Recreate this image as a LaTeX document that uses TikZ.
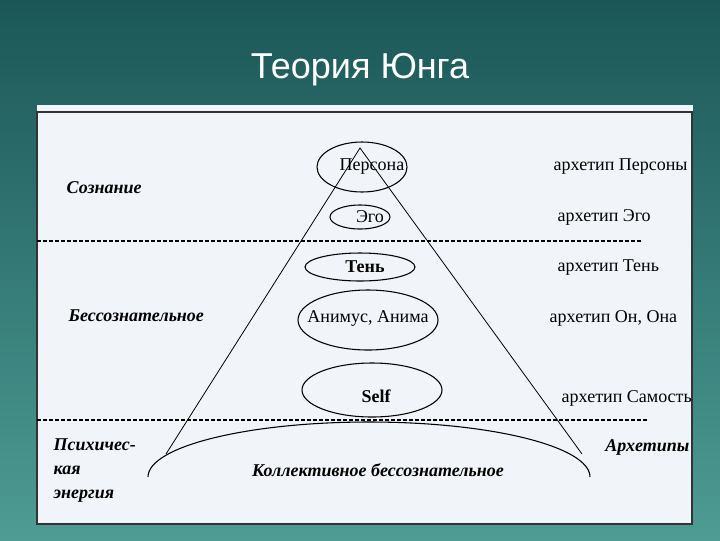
\documentclass[tikz,border=0pt]{standalone}
\usepackage{fontspec}
\setmainfont{Liberation Serif}
\newfontfamily\titlefont{Liberation Sans}
\definecolor{bgtop}{HTML}{1B5757}
\definecolor{bgbot}{HTML}{4E9C94}
\definecolor{panel}{HTML}{F1F4F8}
\begin{document}
\begin{tikzpicture}[x=0.75pt,y=-0.75pt,
  rlab/.style={anchor=west,font=\fontsize{13.5}{15}\selectfont},
  llab/.style={anchor=west,font=\fontsize{13.5}{18}\selectfont\bfseries\itshape},
  ilab/.style={font=\fontsize{13.5}{15}\selectfont},
  dash line/.style={line width=0.8pt,dash pattern=on 3pt off 1.5pt}]
\useasboundingbox (0,0) rectangle (720,540);
\shade[top color=bgtop,bottom color=bgbot] (0,0) rectangle (720,540);
\fill[panel] (37,105) rectangle (693,525);
\draw[line width=0.8pt,black!80] (37,112) rectangle (692,524);
\node[text=white,font=\titlefont\fontsize{27}{30}\selectfont] (title) at (360,70) {Теория Юнга};
% ellipses
\draw[line width=0.8pt] (362,167) ellipse (45 and 25);
\draw[line width=0.8pt] (360,217) ellipse (30 and 12);
\draw[line width=0.8pt] (360,267) ellipse (55 and 14);
\draw[line width=0.8pt] (368,320) ellipse (70 and 30);
\draw[line width=0.8pt] (372,390) ellipse (70 and 27);
% big arc
\draw[line width=0.8pt] (148,477) arc[start angle=180,end angle=360,x radius=221,y radius=55];
% pyramid
\coordinate (apex) at (360,148);
\coordinate (bl) at (166,454);
\coordinate (br) at (582,454);
\draw[line width=0.6pt] (bl) -- (apex) -- (br);
% dashed lines
\draw[dash line] (37,241) -- (641,241);
\draw[dash line] (37,420) -- (647,420);
% inner labels
\node[ilab] (p) at (372,167) {Персона};
\node[ilab] (e) at (370,217) {Эго};
\node[ilab,font=\fontsize{13.5}{15}\selectfont\bfseries] (t) at (365,267) {Тень};
\node[ilab] (a) at (368,318) {Анимус, Анима};
\node[ilab,font=\fontsize{13.5}{15}\selectfont\bfseries] (s) at (376,396) {Self};
\node[ilab,font=\fontsize{13.5}{15}\selectfont\bfseries\itshape] (k) at (378,470) {Коллективное бессознательное};
% right labels
\node[rlab] (r1) at (549,167) {архетип Персоны};
\node[rlab] (r2) at (553,217) {архетип Эго};
\node[rlab] (r3) at (553,268) {архетип Тень};
\node[rlab] (r4) at (545,318) {архетип Он, Она};
\node[rlab] (r5) at (557,398) {архетип Самость};
% left labels
\node[llab] (l1) at (62,188) {Сознание};
\node[llab] (l2) at (64,316) {Бессознательное};
\node[llab,align=left] (l3) at (49,471) {Психичес-\\кая\\энергия};
\node[llab,anchor=east] (l4) at (694,447) {Архетипы};
\end{tikzpicture}
\end{document}
